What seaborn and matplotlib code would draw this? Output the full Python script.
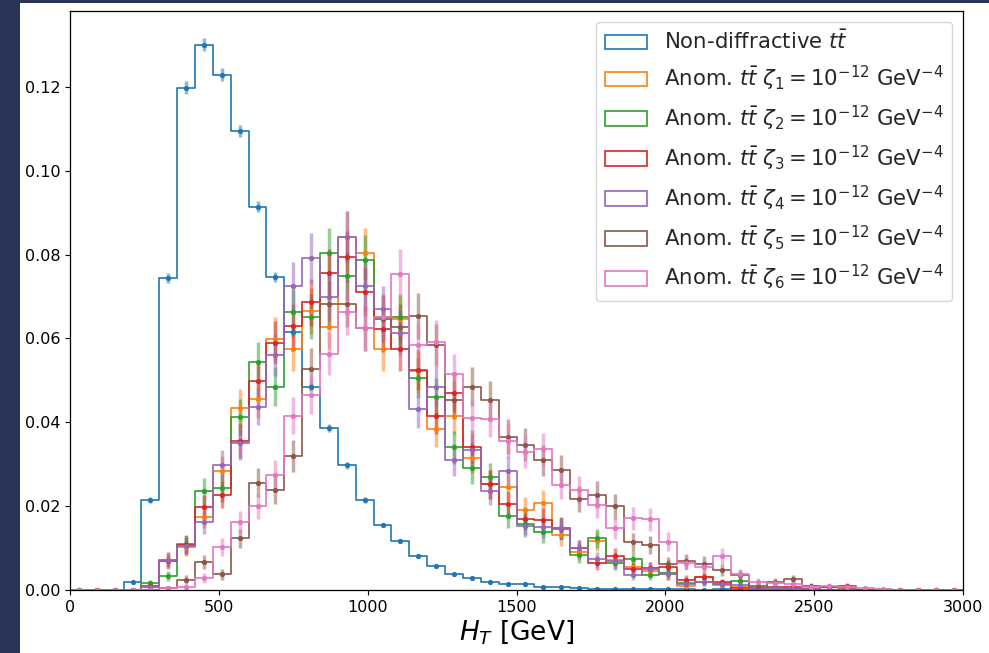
import numpy as np
import pandas as pd
import matplotlib
matplotlib.use("Agg")
import matplotlib.pyplot as plt
from matplotlib.patches import Patch, Rectangle
from matplotlib.colors import to_rgba
import seaborn as sns

# ---------------- data ----------------
bin_width = 60
n_bins = 50
x_max = 3000

labels = [
    r"Non-diffractive $t\bar{t}$",
    r"Anom. $t\bar{t}$ $\zeta_1 = 10^{-12}$ GeV$^{-4}$",
    r"Anom. $t\bar{t}$ $\zeta_2 = 10^{-12}$ GeV$^{-4}$",
    r"Anom. $t\bar{t}$ $\zeta_3 = 10^{-12}$ GeV$^{-4}$",
    r"Anom. $t\bar{t}$ $\zeta_4 = 10^{-12}$ GeV$^{-4}$",
    r"Anom. $t\bar{t}$ $\zeta_5 = 10^{-12}$ GeV$^{-4}$",
    r"Anom. $t\bar{t}$ $\zeta_6 = 10^{-12}$ GeV$^{-4}$",
]

nondiff = [0, 0, 0, 0.002, 0.0215, 0.0744, 0.1198, 0.1301, 0.1229, 0.1095,
           0.0914, 0.0746, 0.0615, 0.0485, 0.0386, 0.0297, 0.0215, 0.0155, 0.0117, 0.0081,
           0.0057, 0.0037, 0.0028, 0.0020, 0.0015, 0.0014, 0.0008, 0.0008, 0.0004, 0.0003,
           0.0003, 0.0002, 0.0002, 0.0002, 0.0002, 0.0001, 0.0002, 0.0001, 0.0001, 0.0001,
           0.0001, 0.0001, 0.0001, 0.0001, 0.0001, 0.0001, 0.0001, 0, 0, 0]

zeta1 = [0, 0, 0, 0, 0.0008, 0.0072, 0.0102, 0.0175, 0.0284, 0.0434,
         0.0456, 0.0599, 0.0574, 0.0665, 0.0628, 0.0843, 0.0803, 0.0574, 0.0646, 0.0522,
         0.0383, 0.0416, 0.0316, 0.0252, 0.0246, 0.0192, 0.0208, 0.0130, 0.0091, 0.0117,
         0.0072, 0.0056, 0.0046, 0.0038, 0.0010, 0.0030, 0.0012, 0.0007, 0.0005, 0.0005,
         0.0003, 0.0003, 0, 0, 0, 0, 0, 0, 0, 0]

zeta2 = [0, 0, 0, 0, 0.0016, 0.0033, 0.0110, 0.0235, 0.0244, 0.0413,
         0.0543, 0.0485, 0.0662, 0.0652, 0.0803, 0.0749, 0.0787, 0.0652, 0.0651, 0.0505,
         0.0460, 0.0340, 0.0290, 0.0269, 0.0177, 0.0157, 0.0138, 0.0145, 0.0083, 0.0123,
         0.0065, 0.0073, 0.0036, 0.0040, 0.0016, 0.0019, 0.0014, 0.0021, 0.0005, 0.0004,
         0.0002, 0, 0, 0, 0, 0, 0, 0, 0, 0]

zeta3 = [0, 0, 0, 0, 0.0009, 0.0068, 0.0107, 0.0197, 0.0227, 0.0355,
         0.0499, 0.0590, 0.0629, 0.0686, 0.0755, 0.0795, 0.0711, 0.0622, 0.0574, 0.0525,
         0.0416, 0.0471, 0.0342, 0.0252, 0.0205, 0.0170, 0.0167, 0.0148, 0.0099, 0.0064,
         0.0080, 0.0049, 0.0052, 0.0056, 0.0025, 0.0032, 0.0018, 0.0005, 0.0005, 0.0006,
         0.0006, 0.0003, 0.0008, 0.0010, 0, 0, 0, 0, 0, 0]

zeta4 = [0, 0, 0, 0, 0.0008, 0.0072, 0.0106, 0.0161, 0.0297, 0.0350,
         0.0437, 0.0561, 0.0724, 0.0792, 0.0698, 0.0841, 0.0724, 0.0670, 0.0614, 0.0431,
         0.0485, 0.0310, 0.0334, 0.0236, 0.0283, 0.0153, 0.0151, 0.0147, 0.0099, 0.0073,
         0.0068, 0.0036, 0.0051, 0.0038, 0.0015, 0.0020, 0.0014, 0.0011, 0.0005, 0.0005,
         0.0003, 0.0002, 0, 0, 0, 0, 0, 0, 0, 0]

zeta5 = [0, 0, 0, 0, 0.0001, 0.0005, 0.0025, 0.0067, 0.0037, 0.0123,
         0.0256, 0.0238, 0.0320, 0.0528, 0.0683, 0.0683, 0.0624, 0.0646, 0.0628, 0.0654,
         0.0584, 0.0452, 0.0485, 0.0452, 0.0366, 0.0347, 0.0309, 0.0286, 0.0217, 0.0227,
         0.0200, 0.0114, 0.0107, 0.0062, 0.0068, 0.0063, 0.0048, 0.0035, 0.0010, 0.0020,
         0.0026, 0.0010, 0.0006, 0.0004, 0, 0, 0, 0, 0, 0]

zeta6 = [0, 0, 0, 0, 0, 0.0004, 0.0008, 0.0029, 0.0103, 0.0162,
         0.0200, 0.0274, 0.0416, 0.0465, 0.0564, 0.0662, 0.0624, 0.0650, 0.0754, 0.0584,
         0.0591, 0.0515, 0.0410, 0.0408, 0.0356, 0.0329, 0.0336, 0.0250, 0.0239, 0.0203,
         0.0147, 0.0171, 0.0169, 0.0115, 0.0064, 0.0055, 0.0081, 0.0037, 0.0019, 0.0016,
         0.0015, 0.0006, 0.0010, 0.0006, 0.0004, 0.0002, 0, 0, 0, 0]

series = [nondiff, zeta1, zeta2, zeta3, zeta4, zeta5, zeta6]
# number of simulated events per sample (for Poisson error bars)
n_events = [50000, 2200, 2200, 2200, 2200, 2200, 2200]

# ---------------- plot ----------------
sns.set_style("ticks")
plt.rcParams["font.family"] = ["DejaVu Sans"]

colors = sns.color_palette("tab10", 7)
edges = np.arange(0, x_max + bin_width, bin_width)
centers = edges[:-1] + bin_width / 2

fig = plt.figure(figsize=(9.89, 6.53), dpi=100)
fig.patch.set_facecolor("#2b3457")
fig.add_artist(Rectangle((20 / 989, 0), 1, 650 / 653, transform=fig.transFigure,
                         facecolor="white", edgecolor="none", zorder=0))
ax = fig.add_axes([70 / 989, 63 / 653, 893 / 989, 579 / 653])

handles = []
for vals, col, lab, n in zip(series, colors, labels, n_events):
    v = np.asarray(vals, dtype=float)
    df = pd.DataFrame({"HT": centers, "w": v})
    sns.histplot(data=df, x="HT", weights="w", bins=list(edges), element="step",
                 fill=False, color=col, linewidth=1.2, ax=ax, stat="count")
    err = np.sqrt(v / n)
    ax.errorbar(centers, v, yerr=err, fmt=".", color=col, ecolor=to_rgba(col, 0.5),
                elinewidth=2.5, ms=5.5, capsize=0)
    handles.append(Patch(facecolor="none", edgecolor=col, linewidth=1.2, label=lab))

ax.set_xlim(0, x_max)
ax.set_ylim(0, 0.1381)
ax.set_xticks(np.arange(0, x_max + 1, 500))
ax.set_yticks(np.arange(0, 0.121, 0.02))
ax.yaxis.set_major_formatter(matplotlib.ticker.FormatStrFormatter("%.2f"))
ax.tick_params(labelsize=11.5, colors="black")
for s in ax.spines.values():
    s.set_color("black")
    s.set_linewidth(0.9)
ax.set_ylabel("")
ax.set_xlabel(r"$H_T$ [GeV]", fontsize=19, color="black", labelpad=2)
ax.legend(handles=handles, loc="upper right", fontsize=15.3, framealpha=0.8)

fig.savefig("out.png", dpi=100, facecolor=fig.get_facecolor())
